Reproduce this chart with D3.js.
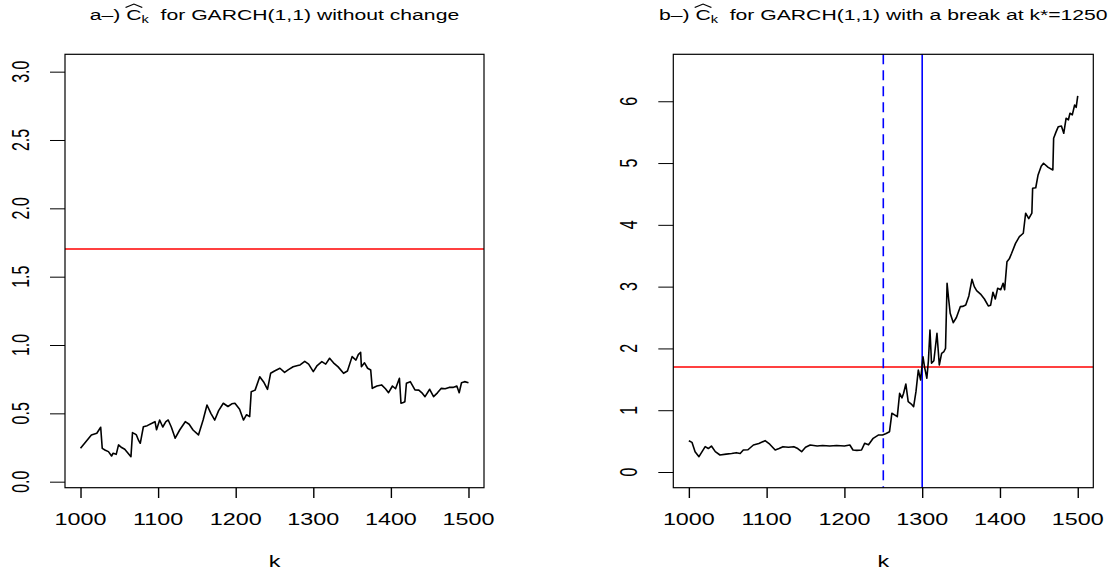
<!DOCTYPE html>
<html>
<head>
<meta charset="utf-8">
<script src="https://cdn.jsdelivr.net/npm/d3@7"></script>
<style>
  html, body { margin: 0; padding: 0; background: #fff; }
  svg { display: block; font-family: "Liberation Sans", Arial, sans-serif; }
  text { white-space: pre; }
</style>
</head>
<body>
<svg id="chart" width="1112" height="573"></svg>
<script>
// ---------- data ----------
const kLeft = [1000,1014,1021,1026,1028,1032,1036,1040,1042,1046,1049,1053,1057,1061,1065,1067,1070,1072,1075,1077,1081,1086,1092,1096,1098,1102,1106,1110,1113,1117,1122,1128,1135,1140,1145,1152,1158,1163,1168,1173,1178,1184,1190,1195,1199,1205,1210,1214,1218,1220,1225,1231,1236,1241,1245,1250,1257,1263,1268,1274,1280,1283,1289,1294,1300,1305,1311,1316,1321,1326,1332,1339,1344,1350,1355,1358,1361,1362,1366,1370,1374,1376,1382,1388,1393,1397,1402,1406,1411,1413,1416,1418,1420,1425,1431,1436,1440,1444,1450,1455,1460,1465,1470,1475,1480,1485,1488,1491,1495,1500];
const cLeft = [0.244,0.342,0.354,0.398,0.244,0.23,0.22,0.188,0.208,0.20,0.269,0.25,0.237,0.21,0.183,0.359,0.35,0.342,0.30,0.281,0.402,0.41,0.427,0.439,0.38,0.451,0.40,0.44,0.451,0.40,0.318,0.38,0.439,0.42,0.378,0.342,0.451,0.561,0.50,0.451,0.52,0.574,0.55,0.57,0.574,0.53,0.451,0.49,0.476,0.658,0.67,0.768,0.73,0.676,0.793,0.81,0.83,0.80,0.82,0.841,0.85,0.854,0.88,0.86,0.805,0.85,0.878,0.86,0.903,0.87,0.84,0.793,0.81,0.915,0.89,0.93,0.947,0.841,0.87,0.83,0.817,0.683,0.70,0.708,0.68,0.651,0.70,0.68,0.757,0.574,0.58,0.585,0.72,0.732,0.671,0.67,0.65,0.622,0.676,0.622,0.65,0.683,0.68,0.69,0.69,0.70,0.651,0.724,0.732,0.724];

const kRight = [1000,1004,1008,1013,1017,1021,1025,1029,1034,1040,1048,1055,1061,1066,1070,1076,1083,1090,1098,1104,1111,1116,1121,1128,1135,1140,1145,1150,1156,1165,1172,1181,1190,1200,1207,1211,1216,1222,1226,1231,1237,1244,1249,1253,1258,1261,1265,1268,1271,1274,1276,1279,1282,1286,1289,1292,1295,1298,1301,1303,1306,1308,1310,1312,1315,1319,1322,1325,1328,1330,1332,1334,1336,1340,1344,1349,1352,1356,1360,1364,1367,1370,1375,1380,1385,1388,1391,1394,1397,1401,1404,1406,1409,1412,1415,1420,1425,1430,1433,1437,1441,1442,1446,1449,1453,1456,1462,1468,1469,1472,1475,1479,1482,1485,1488,1490,1493,1496,1498,1500];
const cRight = [0.507,0.48,0.329,0.248,0.33,0.41,0.38,0.42,0.33,0.275,0.29,0.30,0.313,0.30,0.356,0.36,0.437,0.46,0.507,0.45,0.356,0.38,0.41,0.40,0.41,0.38,0.329,0.40,0.437,0.42,0.43,0.42,0.43,0.42,0.437,0.356,0.35,0.356,0.464,0.44,0.545,0.6,0.6,0.62,0.652,0.95,0.92,0.895,1.274,1.2,1.27,1.424,1.138,1.10,1.057,1.30,1.651,1.489,1.866,1.70,1.517,1.80,2.298,1.76,1.80,2.245,1.732,1.921,1.95,2.0,3.054,2.80,2.569,2.417,2.5,2.676,2.68,2.703,2.85,3.119,3.0,2.935,2.88,2.80,2.687,2.70,2.909,2.80,2.973,2.95,3.054,2.95,3.404,3.45,3.54,3.70,3.809,3.864,4.188,4.10,4.188,4.592,4.60,4.807,4.95,4.997,4.93,4.888,5.401,5.50,5.589,5.60,5.482,5.725,5.70,5.806,5.78,5.94,5.90,6.086];

const xTicks = [1000,1100,1200,1300,1400,1500];
const yTicksLeft = [0,0.5,1,1.5,2,2.5,3];
const yTicksRight = [0,1,2,3,4,5,6];
const threshold = 1.7;
const breakEstimate = 1250;   // dashed
const breakTrue = 1300;       // solid
const titleLeft = ["a\u2013) ", "C", "k", "  for GARCH(1,1) without change"];
const titleRight = ["b\u2013) ", "C", "k", "  for GARCH(1,1) with a break at k*=1250"];

// ---------- drawing ----------
const svg = d3.select("#chart");
const SX = 1.46; // horizontal stretch of the original figure

function stext(g, x, y, str, size, anchor, rotate) {
  const t = g.append("g")
    .attr("transform", `translate(${x},${y}) scale(${SX},1)` + (rotate ? " rotate(-90)" : ""));
  t.append("text").attr("text-anchor", anchor).attr("font-size", size)
    .attr("fill", "#000").text(str);
  return t;
}

function title(g, cx, y, parts) {
  const t = g.append("g").attr("transform", `translate(${cx},${y}) scale(${SX},1)`);
  const txt = t.append("text").attr("text-anchor", "middle").attr("font-size", 14.5)
    .attr("fill", "#000").attr("xml:space", "preserve");
  txt.append("tspan").text(parts[0]);
  txt.append("tspan").text(parts[1]);
  txt.append("tspan").attr("font-size", 10).attr("dy", 3).text(parts[2]);
  txt.append("tspan").attr("dy", -3).text(parts[3].replace(/^  /, "\u00a0\u00a0"));
  // widehat over C
  const node = txt.node();
  const start = node.getStartPositionOfChar(parts[0].length);
  const end = node.getEndPositionOfChar(parts[0].length);
  const x0 = start.x - 0.5, x1 = end.x + 0.5, xm = (x0 + x1) / 2;
  t.append("path")
    .attr("d", `M${x0},-12.5 L${xm},-16 L${x1},-12.5`)
    .attr("fill", "none").attr("stroke", "#000").attr("stroke-width", 0.9);
}

function panel(opt) {
  const g = svg.append("g");
  const x = d3.scaleLinear().domain([980, 1520]).range([opt.x0, opt.x1]);
  const y = d3.scaleLinear().domain(opt.ydom).range([487.7, 54.3]);

  // threshold line
  g.append("line")
    .attr("x1", opt.x0).attr("x2", opt.x1)
    .attr("y1", Math.round(y(threshold))).attr("y2", Math.round(y(threshold)))
    .attr("stroke", "#ff0000").attr("stroke-width", 1.5);

  // break lines
  if (opt.breaks) {
    g.append("line")
      .attr("x1", x(breakEstimate)).attr("x2", x(breakEstimate))
      .attr("y1", 54.3).attr("y2", 487.7)
      .attr("stroke", "#0000ff").attr("stroke-width", 1.6)
      .attr("stroke-dasharray", "10,6");
    g.append("line")
      .attr("x1", x(breakTrue)).attr("x2", x(breakTrue))
      .attr("y1", 54.3).attr("y2", 487.7)
      .attr("stroke", "#0000ff").attr("stroke-width", 1.6);
  }

  // data line
  const line = d3.line().x((d, i) => x(opt.k[i])).y(d => y(d));
  g.append("path").datum(opt.c)
    .attr("d", line)
    .attr("fill", "none").attr("stroke", "#000")
    .attr("stroke-width", 1.6).attr("stroke-linejoin", "round");

  // box
  g.append("rect")
    .attr("x", opt.x0).attr("y", 54.3)
    .attr("width", opt.x1 - opt.x0).attr("height", 487.7 - 54.3)
    .attr("fill", "none").attr("stroke", "#000").attr("stroke-width", 1.2);

  // x axis
  const xa = g.append("g").attr("transform", "translate(0,487.7)")
    .call(d3.axisBottom(x).tickValues(xTicks).tickSize(10.3).tickFormat(""));
  xa.select(".domain").remove();
  xa.selectAll("line").attr("stroke", "#000").attr("stroke-width", 1.4);
  xTicks.forEach(v => stext(g, x(v), 525, String(v), 16, "middle", false));
  stext(g, (opt.x0 + opt.x1) / 2, 567, "k", 16, "middle", false);

  // y axis
  const ya = g.append("g").attr("transform", `translate(${opt.x0},0)`)
    .call(d3.axisLeft(y).tickValues(opt.yticks).tickSize(15).tickFormat(""));
  ya.select(".domain").remove();
  ya.selectAll("line").attr("stroke", "#000").attr("stroke-width", 1);
  opt.yticks.forEach(v => stext(g, opt.x0 - 36, y(v), opt.fmt(v), 16, "middle", true));

  title(g, (opt.x0 + opt.x1) / 2, 20, opt.title);
}

panel({ x0: 65, x1: 484, ydom: [-0.044, 3.127], k: kLeft, c: cLeft,
        yticks: yTicksLeft, fmt: d3.format(".1f"), title: titleLeft, breaks: false });
panel({ x0: 673.3, x1: 1093.3, ydom: [-0.254, 6.76], k: kRight, c: cRight,
        yticks: yTicksRight, fmt: d3.format("d"), title: titleRight, breaks: true });
</script>
</body>
</html>
